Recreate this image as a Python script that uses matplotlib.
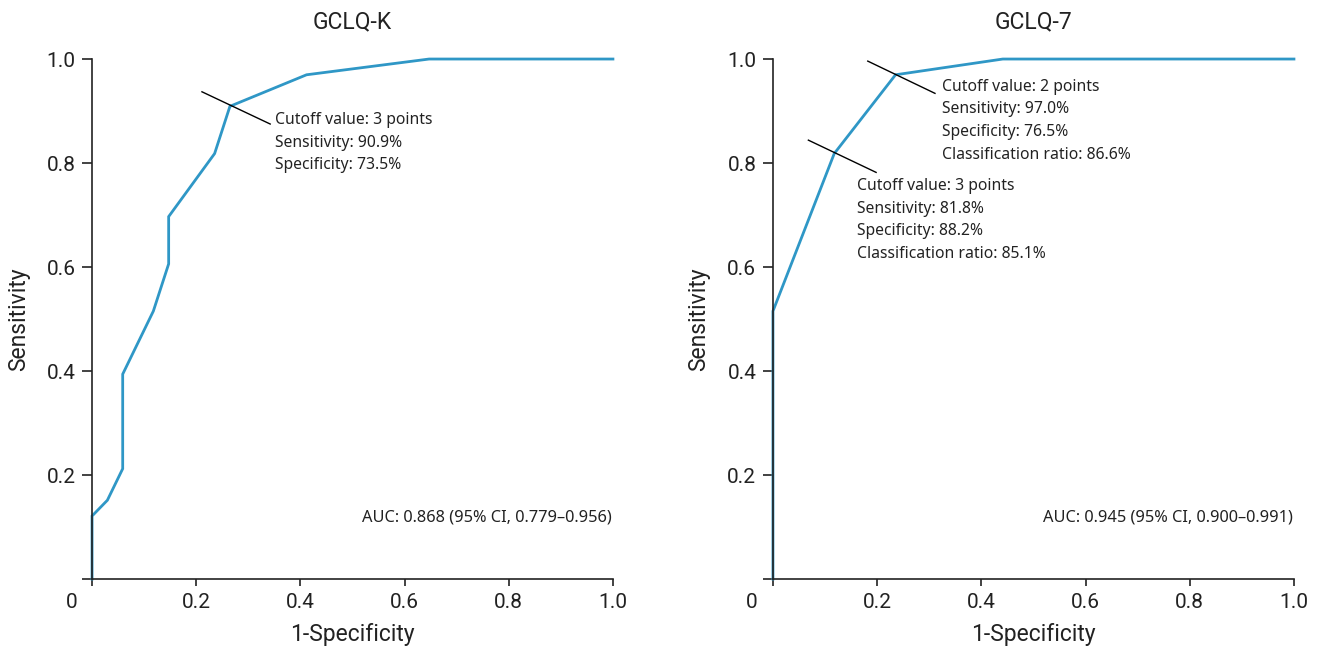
import matplotlib.pyplot as plt

# ROC points (1-specificity, sensitivity), n_neg = 34, n_pos = 33
gclq_k_fpr = [0, 0, 1/34, 2/34, 2/34, 4/34, 5/34, 5/34, 8/34, 9/34, 14/34, 22/34, 1]
gclq_k_tpr = [0, 4/33, 5/33, 7/33, 13/33, 17/33, 20/33, 23/33, 27/33, 30/33, 32/33, 1, 1]

gclq_7_fpr = [0, 0, 4/34, 8/34, 15/34, 1]
gclq_7_tpr = [0, 17/33, 27/33, 32/33, 1, 1]

titles = ["GCLQ-K", "GCLQ-7"]
auc_labels = ["AUC: 0.868 (95% CI, 0.779\u20130.956)",
              "AUC: 0.945 (95% CI, 0.900\u20130.991)"]
x_ticks = [0, 0.2, 0.4, 0.6, 0.8, 1.0]
x_tick_labels = ["", "0.2", "0.4", "0.6", "0.8", "1.0"]
y_ticks = [0, 0.2, 0.4, 0.6, 0.8, 1.0]
y_tick_labels = ["", "0.2", "0.4", "0.6", "0.8", "1.0"]

# annotations: (pointer line start, pointer line end, text anchor, lines)
k_notes = [((0.211, 0.937), (0.342, 0.875), (0.351, 0.898),
            ["Cutoff value: 3 points", "Sensitivity: 90.9%", "Specificity: 73.5%"])]
seven_notes = [((0.182, 0.996), (0.311, 0.934), (0.324, 0.962),
                ["Cutoff value: 2 points", "Sensitivity: 97.0%", "Specificity: 76.5%",
                 "Classification ratio: 86.6%"]),
               ((0.068, 0.844), (0.198, 0.782), (0.161, 0.771),
                ["Cutoff value: 3 points", "Sensitivity: 81.8%", "Specificity: 88.2%",
                 "Classification ratio: 85.1%"])]

LINE_COLOR = "#2f97c6"
TEXT_COLOR = "#222222"
NOTE_FONT = ['Noto Sans', 'DejaVu Sans']
plt.rcParams['font.family'] = ['Roboto', 'DejaVu Sans']

fig = plt.figure(figsize=(13.17, 6.53), dpi=100)
ax_k = fig.add_axes([0.0699, 0.1133, 0.3955, 0.7963])
ax_7 = fig.add_axes([0.5869, 0.1133, 0.3956, 0.7963])

for ax, fpr, tpr, title, auc, notes in [
        (ax_k, gclq_k_fpr, gclq_k_tpr, titles[0], auc_labels[0], k_notes),
        (ax_7, gclq_7_fpr, gclq_7_tpr, titles[1], auc_labels[1], seven_notes)]:
    ax.plot(fpr, tpr, color=LINE_COLOR, lw=2.0, clip_on=False, solid_joinstyle='miter')
    ax.set_xlim(0, 1)
    ax.set_ylim(0, 1)
    for side in ["top", "right"]:
        ax.spines[side].set_visible(False)
    for side in ["left", "bottom"]:
        ax.spines[side].set_color(TEXT_COLOR)
        ax.spines[side].set_linewidth(1.2)
    ax.set_xticks(x_ticks)
    ax.set_xticklabels(x_tick_labels)
    ax.set_yticks(y_ticks)
    ax.set_yticklabels(y_tick_labels)
    ax.tick_params(axis='x', length=5, width=1.2, color=TEXT_COLOR, labelsize=15,
                   labelcolor=TEXT_COLOR, pad=5)
    ax.tick_params(axis='y', length=7, width=1.2, color=TEXT_COLOR, labelsize=15,
                   labelcolor=TEXT_COLOR, pad=5)
    ax.text(-0.04, -0.045, "0", transform=ax.transAxes, ha='center', va='center',
            fontsize=15, color=TEXT_COLOR)
    ax.set_title(title, fontsize=16.5, color=TEXT_COLOR, pad=22)
    ax.set_xlabel("1-Specificity", fontsize=16.5, color=TEXT_COLOR, labelpad=8)
    ax.set_ylabel("Sensitivity", fontsize=16.5, color=TEXT_COLOR, labelpad=12)
    ax.text(0.998, 0.119, auc, ha='right', va='center', fontsize=11.8,
            color=TEXT_COLOR, family=NOTE_FONT)
    for p0, p1, anchor, lines in notes:
        ax.plot([p0[0], p1[0]], [p0[1], p1[1]], color='black', lw=1.0)
        ax.text(anchor[0], anchor[1], "\n".join(lines), ha='left', va='top',
                fontsize=11.3, linespacing=1.55, color=TEXT_COLOR, family=NOTE_FONT)

fig.savefig("out.png", dpi=100)
